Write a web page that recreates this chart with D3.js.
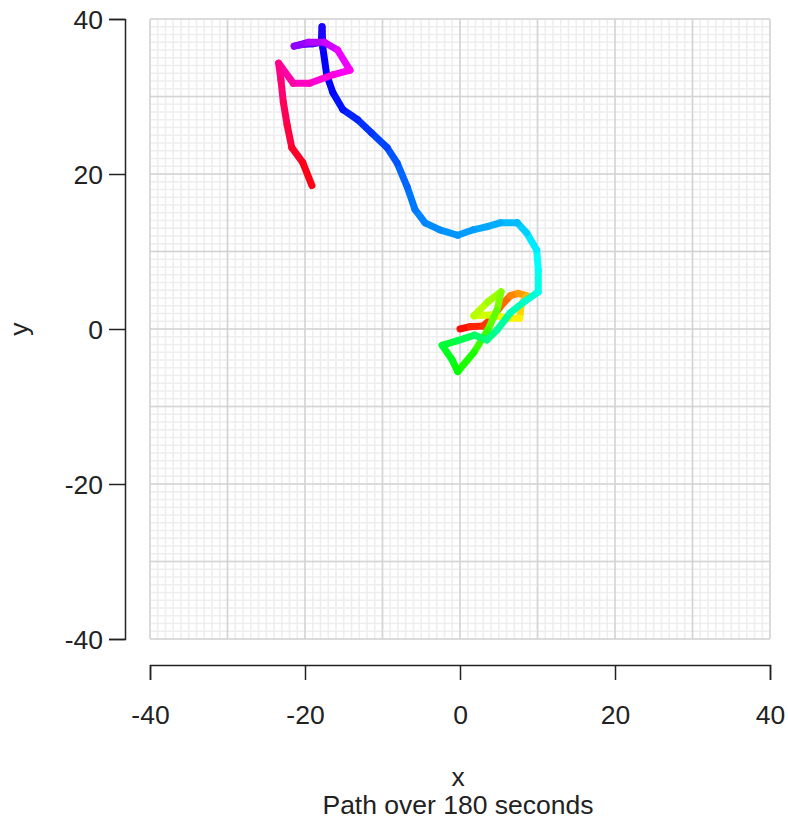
<!DOCTYPE html>
<html>
<head>
<meta charset="utf-8">
<script src="https://cdn.jsdelivr.net/npm/d3@7"></script>
<style>
  html, body { margin: 0; padding: 0; background: #ffffff; }
  svg { display: block; font-family: "Liberation Sans", Arial, sans-serif; }
</style>
</head>
<body>
<svg id="chart" width="788" height="825"></svg>
<script>
// Tracked position over time (seconds, x, y)
const seconds = [0, 3, 5, 8, 11, 14, 17, 20, 23, 27, 30, 34, 37, 40, 43, 47, 51, 55, 59, 62,
  65, 68, 71, 74, 77, 80, 83, 86, 88, 91, 94, 97, 99, 100, 101, 102, 103, 104, 105, 107,
  109, 111, 113, 115, 117, 119, 120, 121, 122, 125, 128, 131, 135, 139, 143, 146, 150, 153, 156, 159,
  162, 165, 168, 171, 174, 176, 179];
const xs = [0, 1.3, 3.0, 4.1, 5.4, 6.5, 7.5, 8.6, 7.9, 7.7, 6.5, 3.9, 1.8, 3.6, 5.3, 4.8, 3.6, 1.8, -0.3, -1.0,
  -2.3, -0.3, 1.9, 3.5, 4.8, 6.5, 8.4, 10.1, 10.1, 9.9, 8.6, 7.4, 5.2, 3.5, 1.7, -0.3, -2.6, -4.5, -5.8, -6.8,
  -8.1, -9.4, -11.4, -13.2, -15.1, -16.4, -17.2, -17.7, -17.8, -17.9, -19.0, -20.3, -21.4, -19.5, -17.5, -15.8, -14.2, -16.4, -19.4, -21.5,
  -23.4, -23.1, -22.8, -22.3, -21.7, -20.3, -19.1];
const ys = [0, 0.3, 0.4, 1.4, 3.1, 4.3, 4.6, 4.3, 3.1, 1.4, 1.4, 1.8, 1.7, 3.5, 4.8, 2.5, -0.1, -3.0, -5.5, -4.0,
  -2.1, -1.5, -0.8, -1.4, -0.1, 2.1, 3.6, 4.8, 7.6, 10.2, 12.4, 13.7, 13.7, 13.2, 12.8, 12.1, 12.8, 13.7, 15.4, 18.3,
  21.4, 23.4, 25.3, 27.0, 28.3, 30.5, 32.8, 36.3, 39.0, 37.0, 36.8, 36.7, 36.5, 37.0, 37.0, 36.0, 33.4, 32.8, 31.7, 31.7,
  34.3, 32.1, 29.3, 26.3, 23.4, 21.5, 18.5];
const totalSeconds = 180;

const xTicks = [-40, -20, 0, 20, 40];
const yTicks = [-40, -20, 0, 20, 40];

const svg = d3.select("#chart");
const panel = { left: 150, right: 770, top: 19, bottom: 639 };

const x = d3.scaleLinear().domain([-40, 40]).range([panel.left, panel.right]);
const y = d3.scaleLinear().domain([-40, 40]).range([panel.bottom, panel.top]);

// Grid: fine lines each unit, heavier lines each 10 units
const grid = svg.append("g");
const minor = d3.range(-40, 41, 1);
const major = d3.range(-40, 41, 10);
grid.selectAll(".vminor").data(minor).join("line")
  .attr("x1", d => x(d)).attr("x2", d => x(d))
  .attr("y1", panel.top).attr("y2", panel.bottom)
  .attr("stroke", "#eeeeee").attr("stroke-width", 1.6);
grid.selectAll(".hminor").data(minor).join("line")
  .attr("y1", d => y(d)).attr("y2", d => y(d))
  .attr("x1", panel.left).attr("x2", panel.right)
  .attr("stroke", "#eeeeee").attr("stroke-width", 1.6);
grid.selectAll(".vmajor").data(major).join("line")
  .attr("x1", d => x(d)).attr("x2", d => x(d))
  .attr("y1", panel.top).attr("y2", panel.bottom)
  .attr("stroke", "#d3d3d3").attr("stroke-width", 1.5);
grid.selectAll(".hmajor").data(major).join("line")
  .attr("y1", d => y(d)).attr("y2", d => y(d))
  .attr("x1", panel.left).attr("x2", panel.right)
  .attr("stroke", "#d3d3d3").attr("stroke-width", 1.5);

// Path segments, coloured by elapsed time around the hue wheel
const segs = d3.range(seconds.length - 1);
const colour = t => d3.hsl(360 * t / totalSeconds, 1, 0.5).formatHex();
svg.append("g").selectAll("line").data(segs).join("line")
  .attr("x1", i => x(xs[i])).attr("y1", i => y(ys[i]))
  .attr("x2", i => x(xs[i + 1])).attr("y2", i => y(ys[i + 1]))
  .attr("stroke", i => colour((seconds[i] + seconds[i + 1]) / 2))
  .attr("stroke-width", 7)
  .attr("stroke-linecap", "round");

// Axes
const fontSize = 26.5;
const fmt = d => String(d);
const xAxis = svg.append("g").attr("transform", "translate(0,665)")
  .call(d3.axisBottom(x).tickValues(xTicks).tickSize(15).tickSizeOuter(15).tickPadding(25)
    .tickFormat(fmt));
const yAxis = svg.append("g").attr("transform", "translate(125,0)")
  .call(d3.axisLeft(y).tickValues(yTicks).tickSize(16).tickSizeOuter(16).tickPadding(6)
    .tickFormat(fmt));
[xAxis, yAxis].forEach(a => {
  a.selectAll("path, line").attr("stroke", "#222").attr("stroke-width", 1.5);
  a.selectAll("text").attr("fill", "#222").style("font-size", fontSize + "px")
    .style("font-family", "'Liberation Sans', Arial, sans-serif");
});
yAxis.selectAll("text").attr("dy", "0.36em");

// Axis titles and caption
svg.append("text").attr("x", 458).attr("y", 786).attr("text-anchor", "middle")
  .attr("fill", "#222").style("font-size", fontSize + "px").text("x");
svg.append("text").attr("x", 458).attr("y", 814).attr("text-anchor", "middle")
  .attr("fill", "#222").style("font-size", fontSize + "px").text("Path over 180 seconds");
svg.append("text").attr("transform", "translate(28,329) rotate(-90)").attr("text-anchor", "middle")
  .attr("fill", "#222").style("font-size", fontSize + "px").text("y");
</script>
</body>
</html>
